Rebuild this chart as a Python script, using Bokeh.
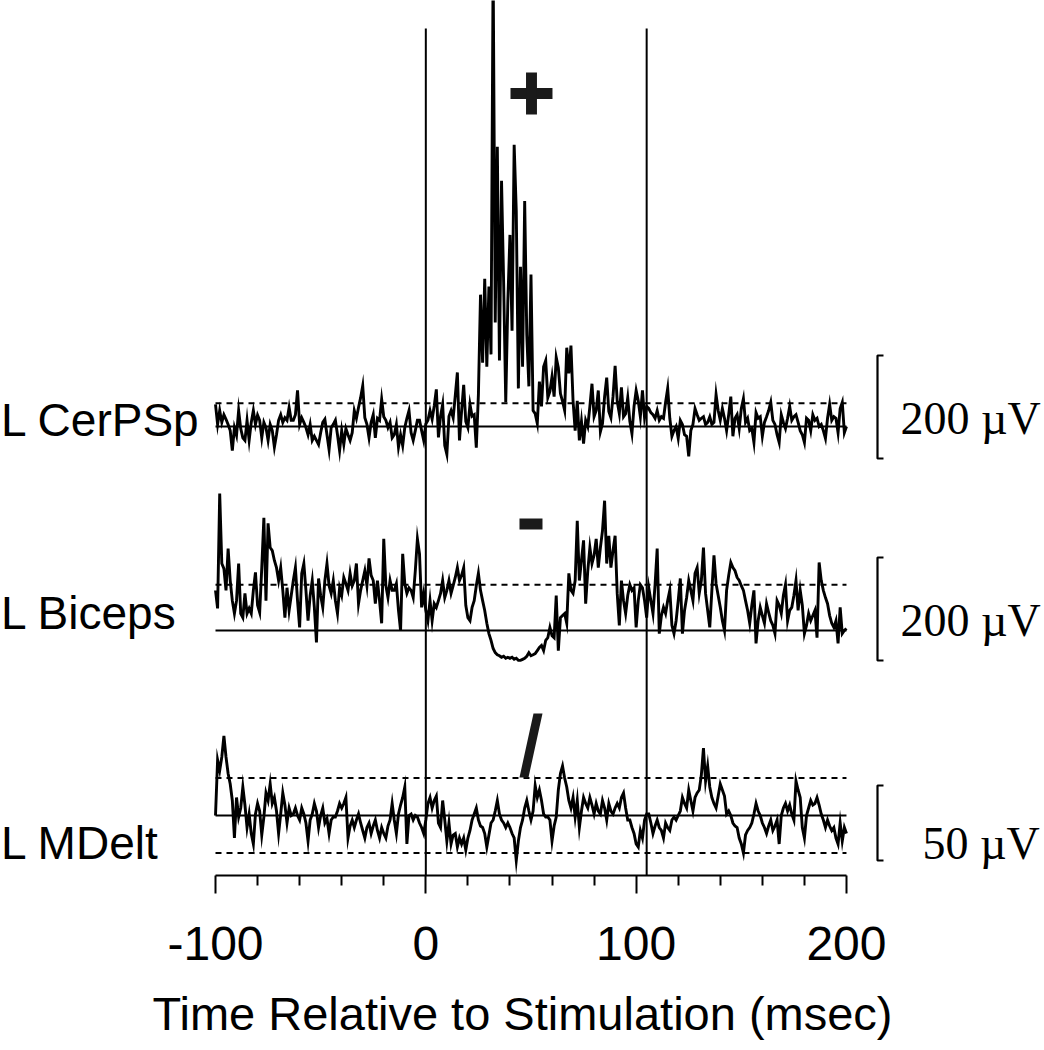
from bokeh.plotting import figure
from bokeh.models import Range1d, LinearAxis, FixedTicker, ColumnDataSource
from bokeh.embed import file_html
from bokeh.resources import INLINE
from bokeh.core.properties import value

# ---------------- data ----------------
time_ms = list(range(-100, 201))

# L CerPSp averaged rectified EMG (µV, relative to pre-stimulus mean)
cerpsp_uv = [
    43, 4, 31, 8, 23, 14, 4, -8, -47, -2,
    -17, 31, -4, -22, -27, 12, -27, 8, 31, 4,
    22, 12, -22, 8, -2, -27, 4, -8, -40, -16,
    12, 23, 8, 17, 12, 37, 12, 12, 23, 70,
    4, 17, 8, -2, -16, 4, -27, -19, -27, -35,
    -12, 8, 14, -16, -45, -2, 4, 12, -16, -47,
    -8, -35, -4, -16, -27, -12, 31, 16, 37, 56,
    79, 17, 4, -22, 8, 23, -22, 16, 12, 53,
    19, 12, -2, 8, -22, -16, 4, -40, -16, -37,
    -2, 16, 31, -12, -27, -8, 12, 12, -8, -27,
    5, 12, 31, 14, 40, 72, -21, 20, 43, -37,
    -54, 20, 31, 17, 60, 105, -27, 30, 81, 10,
    -2, 43, 20, 23, -41, 62, 256, 124, 287, 116,
    272, 140, 900, 202, 543, 128, 477, 279, 47, 244,
    372, 186, 547, 419, 74, 310, 116, 438, 178, 78,
    295, 31, 25, 6, 87, 39, 116, 128, 56, 68,
    97, 58, 134, 114, 64, 49, 31, 153, 103, 157,
    50, -8, 50, -27, 10, -33, 12, 0, 39, 83,
    19, 31, 70, -10, 6, 58, 95, 29, 17, 58,
    118, 49, 25, 76, 19, 25, 56, 10, -14, 39,
    70, 50, 19, 70, 17, 39, 35, 27, 23, 16,
    31, 12, 19, 16, 47, 74, 16, -19, -8, 0,
    -23, 12, 4, -16, -19, -58, -8, 4, 35, 23,
    12, 16, 19, 4, 8, 19, 4, 8, 62, 31,
    12, 35, 16, -8, 23, 58, -19, 16, 23, -4,
    35, 54, 8, 16, -8, -4, -31, 27, 16, 19,
    -19, 8, 19, 31, 47, 12, 4, -16, -31, 23,
    8, -4, 16, 39, 12, 19, 23, 8, -8, -16,
    -31, 16, 12, -8, 23, 12, 16, 0, 4, -8,
    -23, 16, 43, 12, 19, 16, -12, 35, 47, -12,
    0,
]

# L Biceps (µV)
biceps_uv = [
    78, 43, 266, 130, 120, 78, 159, 97, 58, 33,
    58, 130, 33, 25, 72, 33, 43, 33, 78, 113,
    49, 35, 122, 219, 58, 208, 161, 155, 136, 122,
    97, 122, 78, 25, 83, 39, 68, 97, 122, 58,
    6, 111, 130, 78, 19, 68, 97, 45, -23, 101,
    68, 45, 97, 130, 87, 72, 97, 58, 33, 83,
    68, 103, 91, 78, 111, 87, 97, 130, 52, 78,
    97, 116, 87, 140, 107, 97, 52, 97, 58, 14,
    178, 87, 64, 97, 78, 78, 91, 39, 0, 149,
    91, 72, 83, 78, 64, 116, 178, 149, 45, 72,
    39, 19, 58, 19, 52, 45, 58, 72, 97, 64,
    78, 97, 72, 87, 103, 122, 97, 107, 122, 49,
    25, 19, 45, 58, 87, 111, 78, 58, 39, 14,
    -6, -19, -35, -43, -47, -49, -52, -50, -54, -52,
    -54, -52, -56, -54, -58, -58, -56, -54, -50, -43,
    -49, -47, -45, -39, -33, -29, -39, -19, -14, 6,
    -10, -14, 68, -39, 25, 29, 33, 14, 111, 78,
    72, 97, 213, 97, 136, 175, 52, 116, 161, 130,
    146, 178, 122, 161, 194, 252, 130, 184, 122, 155,
    184, 72, 10, 97, 58, 33, 68, 89, 78, 83,
    6, 58, 89, 83, 58, 25, 83, 58, 33, 89,
    159, -6, 29, 45, 33, 58, 78, 10, -6, 19,
    58, 101, -6, 39, 64, 97, 78, 58, 111, 122,
    72, 97, 161, 72, 39, 6, 78, 146, 91, 68,
    45, 19, 0, 78, 107, 132, 122, 116, 103, 97,
    87, 78, 58, 39, 14, 49, 78, -25, 19, 45,
    29, 14, 52, 35, 19, 10, -6, 58, 49, 33,
    68, 89, 19, 39, 45, 68, 97, 39, 78, 49,
    -6, 10, 33, 19, 29, 39, -14, 132, 97, 78,
    64, 52, 29, 14, 6, 19, -25, 45, -6, 0,
    4,
]

# L MDelt (µV)
mdelt_uv = [
    0, 37, 30, 39, 53, 39, 28, 21, 10, -15,
    12, -1, 5, 19, 7, -8, 1, -12, -19, 1,
    8, 3, -13, -1, 15, 10, 21, 8, 12, 3,
    -12, 1, 15, 7, -5, 5, 0, 1, 5, 0,
    -3, 5, 1, -5, -17, -3, 1, 8, 3, -8,
    0, 5, -5, -2, -12, -3, -1, -1, 3, 8,
    5, 8, 12, -15, -7, -3, -8, -3, 1, -5,
    -10, -15, -8, -5, -12, -7, -3, -10, -15, -8,
    -12, -15, -7, -3, 8, -3, -12, 1, 7, 12,
    19, -19, 0, 1, -3, 0, -1, -5, -8, -12,
    -3, 8, 12, 5, 10, 13, -5, -8, 10, -3,
    -17, -5, -19, -13, -12, -21, -15, -19, -15, -23,
    -15, -10, -3, 1, 5, -3, -7, -8, -12, -21,
    -13, -5, -3, 3, 10, 1, -3, -5, -8, -5,
    -8, -12, -15, -30, -17, -8, -3, 5, 10, 3,
    -3, 3, 20, 12, 17, 10, 1, -1, -1, -3,
    -17, -7, -1, 17, 28, 33, 25, 19, 10, 5,
    12, -1, 10, -8, 3, 12, 8, 5, 12, 7,
    1, 8, 3, 1, 10, 5, -3, 8, 3, 1,
    5, 8, 5, 12, 15, 5, -3, -3, -8, -12,
    -19, -21, -10, -15, -3, 1, 1, -5, -12, -7,
    -3, -8, -10, -15, -5, -8, -10, -3, -1, -3,
    0, 3, 12, 8, 5, 17, 10, 3, 12, 15,
    17, 27, 45, 23, 33, 19, 12, 8, 5, 13,
    21, 17, 13, 1, 3, 0, -5, -7, -8, -15,
    -19, -25, -13, -10, -8, -5, 1, 8, 3, 0,
    -5, -8, -12, -7, -3, -10, -7, -3, -19, 0,
    5, 8, 3, 7, 1, -3, 23, 17, 12, -8,
    -15, 0, 5, 10, 7, 8, 12, 7, 1, -3,
    -8, -3, -7, -10, -8, -15, -19, -5, -17, -8,
    -12,
]

muscles = ["L CerPSp", "L Biceps", "L MDelt"]
thresholds_uv = [45, 89, 25]          # significance threshold (dashed lines)
scale_bar_uv = [200, 200, 50]
scale_labels = ["200 \u00b5V", "200 \u00b5V", "50 \u00b5V"]
event_ms = [0, 105]                   # stimulus and end-of-window markers
tick_values = [-100, 0, 100, 200]
tick_labels = ["-100", "0", "100", "200"]
minor_tick_values = [-80, -60, -40, -20, 20, 40, 60, 80, 120, 140, 160, 180]
effect_symbols = ["+", "-", "/"]       # facilitation, suppression, no clear effect

# ---------------- layout (vertical axis is in page-row units) ----------------
W, H = 1044, 1050
baselines = [426, 630, 815]
px_per_uv = [103 / 200, 103 / 200, 75 / 50]
t0, t1 = -100, 200

p = figure(width=W, height=H, x_range=Range1d(-202.22, 294.15), y_range=Range1d(875, 0),
           x_axis_location=None, y_axis_location=None, toolbar_location=None,
           output_backend="svg", min_border_left=0, min_border_right=0,
           min_border_top=0, min_border_bottom=175)
p.outline_line_color = None
p.grid.visible = False
p.background_fill_color = "white"
p.border_fill_color = "white"

ink = "#000000"
traces = [cerpsp_uv, biceps_uv, mdelt_uv]

# vertical event lines
p.segment(x0=event_ms, y0=[875, 875], x1=event_ms, y1=[28, 28], line_color=ink, line_width=2)

for i, vals in enumerate(traces):
    b, k = baselines[i], px_per_uv[i]
    p.line([t0, t1], [b, b], line_color=ink, line_width=2)
    th = thresholds_uv[i]
    p.line([t0, t1], [b - th * k, b - th * k], line_color=ink, line_width=2, line_dash="6 5")
    if i == 2:
        p.line([t0, t1], [b + th * k, b + th * k], line_color=ink, line_width=2, line_dash="6 5")
    src = ColumnDataSource(dict(t=time_ms, y=[b - v * k for v in vals]))
    p.line("t", "y", source=src, line_color=ink, line_width=2.9, line_join="miter")

# scale bars
bar_x, tick_x = 214.75, 217.6
centers = [406.5, 608.5, 822.5]
xs, ys = [], []
for i in range(3):
    half = scale_bar_uv[i] * px_per_uv[i] / 2
    top, bot = centers[i] - half, centers[i] + half
    xs.append([tick_x, bar_x, bar_x, tick_x])
    ys.append([top, top, bot, bot])
p.multi_line(xs, ys, line_color=ink, line_width=2.2)

p.text(x=[225.7, 225.7, 236.1], y=[418, 620, 843], text=scale_labels,
       text_font=value("Liberation Serif"), text_font_size="46px", text_color=ink,
       text_align="left", text_baseline="alphabetic")

# muscle labels
p.text(x=[-202.0] * 3, y=[419, 612, 842], text=muscles,
       text_font=value("Liberation Sans"), text_font_size="46px", text_color=ink,
       text_align="left", text_baseline="alphabetic")

# effect symbols
sym = "#1a1a1a"
p.quad(left=[50.24 - 9.98, 50.24 - 2.6], right=[50.24 + 9.98, 50.24 + 2.6],
       top=[93 - 5.5, 93 - 21], bottom=[93 + 5.5, 93 + 21], fill_color=sym, line_color=None)
p.quad(left=[50.0 - 5.47], right=[50.0 + 5.47], top=[523.5 - 5.5], bottom=[523.5 + 5.5],
       fill_color=sym, line_color=None)
p.patch([44.53, 48.81, 55.47, 51.19], [777, 777, 713, 713], fill_color=sym, line_color=None)

# x axis
xaxis = LinearAxis(ticker=FixedTicker(ticks=tick_values, minor_ticks=minor_tick_values),
                   bounds=(t0, t1), axis_label="Time Relative to Stimulation (msec)")
xaxis.major_label_overrides = dict(zip(tick_values, tick_labels))
xaxis.axis_line_width = 2
xaxis.axis_line_color = ink
xaxis.major_tick_line_width = 2
xaxis.minor_tick_line_width = 2
xaxis.major_tick_line_color = ink
xaxis.minor_tick_line_color = ink
xaxis.major_tick_out = 18
xaxis.major_tick_in = 0
xaxis.minor_tick_out = 10
xaxis.minor_tick_in = 0
xaxis.major_label_standoff = 33
xaxis.axis_label_standoff = 24
xaxis.major_label_text_font = "Liberation Sans"
xaxis.major_label_text_font_size = "48px"
xaxis.major_label_text_color = ink
xaxis.axis_label_text_font = "Liberation Sans"
xaxis.axis_label_text_font_size = "47px"
xaxis.axis_label_text_font_style = "normal"
xaxis.axis_label_text_color = ink
p.add_layout(xaxis, "below")

open("out.html", "w").write(file_html(p, INLINE))
